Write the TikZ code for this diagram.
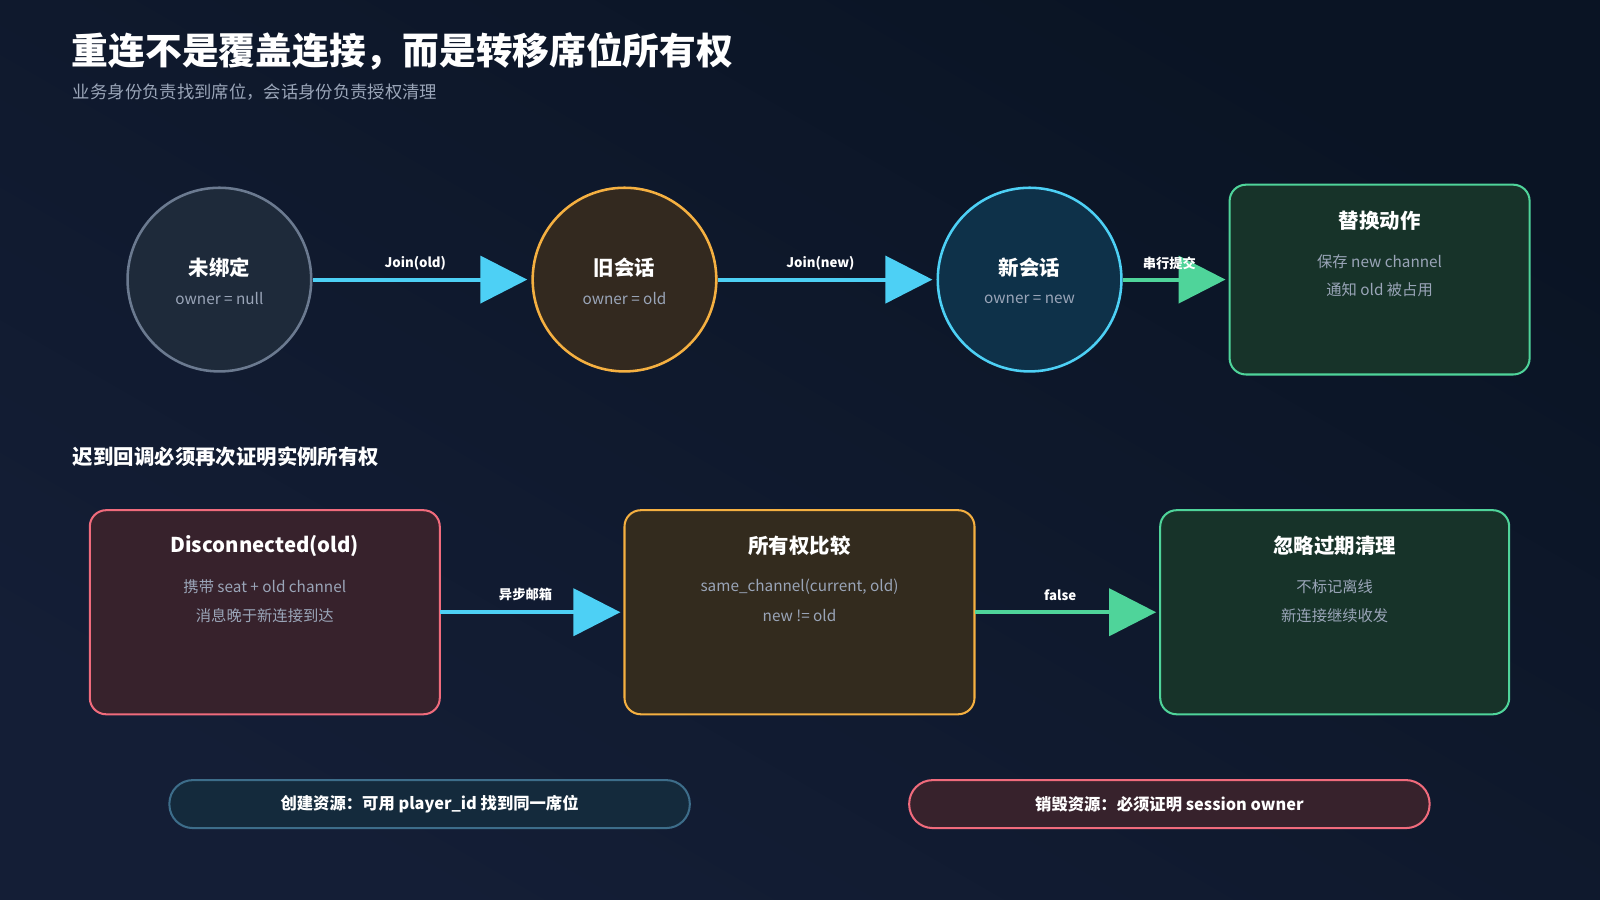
\documentclass[tikz,border=0pt]{standalone}
\usepackage{fontspec}
\setmainfont{Noto Sans CJK SC}
\usetikzlibrary{arrows.meta}
\definecolor{bgA}{HTML}{0A1424}
\definecolor{bgB}{HTML}{141E36}
\definecolor{sub}{HTML}{9AA5B8}
\definecolor{grayS}{HTML}{6B7A90}\definecolor{grayF}{HTML}{1E2A3A}
\definecolor{orS}{HTML}{F5B041}\definecolor{orF}{HTML}{33291F}
\definecolor{cyS}{HTML}{4DD0F5}\definecolor{cyF}{HTML}{0E3149}
\definecolor{grS}{HTML}{4FD49A}\definecolor{grF}{HTML}{173329}
\definecolor{rdS}{HTML}{F06B7C}\definecolor{rdF}{HTML}{37222C}
\definecolor{boF}{HTML}{332B1E}
\definecolor{blS}{HTML}{3D6D8A}\definecolor{blF}{HTML}{142A3C}
\tikzset{
 circ/.style={circle,minimum size=180pt,line width=2.5pt,inner sep=0},
 box/.style={rounded corners=16pt,line width=2pt,anchor=north west},
 pill/.style={rounded corners=23pt,line width=2pt,minimum width=510pt,minimum height=47pt,text=white,font=\fontsize{16}{18}\selectfont\bfseries},
 ttl/.style={text=white,font=\fontsize{20}{22}\selectfont\bfseries},
 sm/.style={text=sub,font=\fontsize{15}{17}\selectfont},
 lbl/.style={text=white,font=\fontsize{13}{15}\selectfont\bfseries},
 arr/.style={line width=4pt,-{Triangle[length=46pt,width=46pt]}},
}
\begin{document}
\begin{tikzpicture}[x=1pt,y=-1pt]
\shade[top color=bgA,bottom color=bgB,shading angle=-30] (0,0) rectangle (1568,882);
\useasboundingbox (0,0) rectangle (1568,882);
\node[anchor=west,text=white,font=\fontsize{36}{40}\selectfont\bfseries] (title) at (67,50) {重连不是覆盖连接，而是转移席位所有权};
\node[anchor=west,text=sub,font=\fontsize{17}{19}\selectfont] (subt) at (68,90) {业务身份负责找到席位，会话身份负责授权清理};
% circles
\node[circ,draw=grayS,fill=grayF] (c1) at (215,274) {};
\node[circ,draw=orS,fill=orF] (c2) at (612,274) {};
\node[circ,draw=cyS,fill=cyF] (c3) at (1009,274) {};
\foreach \n/\t/\s in {c1/未绑定/owner = null,c2/旧会话/owner = old,c3/新会话/owner = new}{
 \node[ttl] at ([yshift=12pt]\n.center) {\t};
 \node[sm] at ([yshift=-19pt]\n.center) {\s};
}
\draw[box,draw=grS,fill=grF] (1205,181) rectangle (1499,367);
\node[ttl] (r1) at (1352,216) {替换动作};
\node[sm] (r2) at (1352,256) {保存 new channel};
\node[sm] (r3) at (1352,284) {通知 old 被占用};
\coordinate (rL) at (1201,274);
\draw[arr,cyS] (c1.east) -- ([xshift=-4pt]c2.west);
\draw[arr,cyS] (c2.east) -- ([xshift=-4pt]c3.west);
\draw[arr,grS] (c3.east) -- (rL);
\node[lbl] at (407,258) {Join(old)};
\node[lbl] at (804,258) {Join(new)};
\node[lbl] at (1146,258) {串行提交};
\node[anchor=west,text=white,font=\fontsize{20}{22}\selectfont\bfseries] (sec) at (68,448) {迟到回调必须再次证明实例所有权};
% bottom boxes
\draw[box,draw=rdS,fill=rdF] (88,500) rectangle (431,700);
\draw[box,draw=orS,fill=boF] (612,500) rectangle (955,700);
\draw[box,draw=grS,fill=grF] (1137,500) rectangle (1479,700);
\node[ttl] (b1) at (259.5,535) {Disconnected(old)};
\node[sm] at (259.5,575) {携带 seat + old channel};
\node[sm] at (259.5,603) {消息晚于新连接到达};
\node[ttl] (b2) at (783.5,535) {所有权比较};
\node[sm] at (783.5,575) {same\_channel(current, old)};
\node[sm] at (783.5,603) {new != old};
\node[ttl] (b3) at (1308,535) {忽略过期清理};
\node[sm] at (1308,575) {不标记离线};
\node[sm] at (1308,603) {新连接继续收发};
\coordinate (a1) at (431,600);\coordinate (a2) at (608,600);
\coordinate (a3) at (955,600);\coordinate (a4) at (1133,600);
\draw[arr,cyS] (a1) -- (a2);
\draw[arr,grS] (a3) -- (a4);
\node[lbl] at (515,583) {异步邮箱};
\node[lbl] at (1039,583) {false};
\node[pill,draw=blS,fill=blF] (p1) at (421,788) {创建资源：可用 player\_id 找到同一席位};
\node[pill,draw=rdS,fill=rdF] (p2) at (1146,788) {销毁资源：必须证明 session owner};
\end{tikzpicture}
\end{document}
